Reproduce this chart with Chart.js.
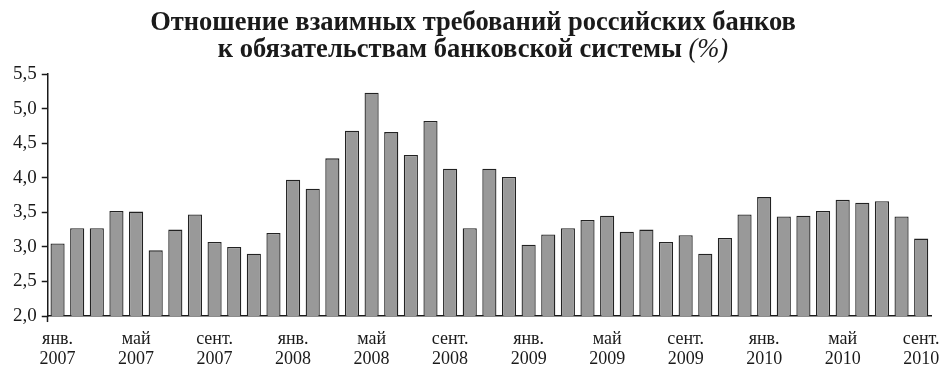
<!DOCTYPE html>
<html>
<head>
<meta charset="utf-8">
<script src="https://cdn.jsdelivr.net/npm/chart.js@4/dist/chart.umd.min.js"></script>
<style>
  html, body { margin: 0; padding: 0; background: #fff; }
  #wrap { width: 947px; height: 367px; position: relative; }
</style>
</head>
<body>
<div id="wrap"><canvas id="chart"></canvas></div>
<script>
// months, Jan 2007 .. Sep 2010
const months = [
  'янв. 2007', 'февр. 2007', 'март 2007', 'апр. 2007', 'май 2007', 'июнь 2007',
  'июль 2007', 'авг. 2007', 'сент. 2007', 'окт. 2007', 'нояб. 2007', 'дек. 2007',
  'янв. 2008', 'февр. 2008', 'март 2008', 'апр. 2008', 'май 2008', 'июнь 2008',
  'июль 2008', 'авг. 2008', 'сент. 2008', 'окт. 2008', 'нояб. 2008', 'дек. 2008',
  'янв. 2009', 'февр. 2009', 'март 2009', 'апр. 2009', 'май 2009', 'июнь 2009',
  'июль 2009', 'авг. 2009', 'сент. 2009', 'окт. 2009', 'нояб. 2009', 'дек. 2009',
  'янв. 2010', 'февр. 2010', 'март 2010', 'апр. 2010', 'май 2010', 'июнь 2010',
  'июль 2010', 'авг. 2010', 'сент. 2010'
];

// ratio of interbank claims to banking system liabilities, %
const ratio = [
  3.05, 3.27, 3.27, 3.52, 3.51, 2.95, 3.25, 3.47, 3.07, 3.00, 2.90, 3.20,
  3.97, 3.84, 4.28, 4.68, 5.23, 4.66, 4.33, 4.82, 4.13, 3.27, 4.13, 4.01,
  3.03, 3.18, 3.27, 3.39, 3.45, 3.22, 3.25, 3.07, 3.17, 2.90, 3.13, 3.47,
  3.72, 3.44, 3.45, 3.52, 3.68, 3.64, 3.66, 3.44, 3.12
];

// labelled every fourth month
const tickLabels = [
  ['янв.', '2007'], ['май', '2007'], ['сент.', '2007'],
  ['янв.', '2008'], ['май', '2008'], ['сент.', '2008'],
  ['янв.', '2009'], ['май', '2009'], ['сент.', '2009'],
  ['янв.', '2010'], ['май', '2010'], ['сент.', '2010']
];

const titleLine1 = 'Отношение взаимных требований российских банков';
const titleLine2 = 'к обязательствам банковской системы';
const titleUnit = '(%)';

const serif = '"Liberation Serif", "DejaVu Serif", serif';

// title drawn by hand so that "(%)" can be italic
const titlePlugin = {
  id: 'twoPartTitle',
  afterDraw(chart) {
    const ctx = chart.ctx;
    const cx = 473;
    ctx.save();
    ctx.fillStyle = '#1a1a1a';
    ctx.textBaseline = 'alphabetic';
    ctx.textAlign = 'left';
    ctx.font = 'bold 26.5px ' + serif;
    let w1 = ctx.measureText(titleLine1).width;
    ctx.fillText(titleLine1, cx - w1 / 2, 30);
    let w2 = ctx.measureText(titleLine2 + ' ').width;
    ctx.font = 'italic 26.5px ' + serif;
    let w3 = ctx.measureText(titleUnit).width;
    let x0 = cx - (w2 + w3) / 2;
    ctx.font = 'bold 26.5px ' + serif;
    ctx.fillText(titleLine2 + ' ', x0, 57);
    ctx.font = 'italic 26.5px ' + serif;
    ctx.fillText(titleUnit, x0 + w2, 57);
    ctx.restore();
  }
};

new Chart(document.getElementById('chart'), {
  type: 'bar',
  data: {
    labels: months,
    datasets: [{
      data: ratio,
      backgroundColor: '#999999',
      borderColor: '#222222',
      borderWidth: 1.3,
      barPercentage: 0.72,
      categoryPercentage: 1
    }]
  },
  options: {
    responsive: true,
    maintainAspectRatio: false,
    animation: false,
    layout: { padding: { top: 74, left: 8, right: 16, bottom: -9 } },
    plugins: {
      legend: { display: false },
      tooltip: { enabled: false },
      title: { display: false }
    },
    scales: {
      x: {
        grid: {
          drawOnChartArea: false,
          drawTicks: true,
          tickLength: 6,
          tickWidth: 1.5,
          tickColor: c => c.index === 0 ? '#1a1a1a' : 'rgba(0,0,0,0)'
        },
        border: { color: '#1a1a1a', width: 1.5 },
        ticks: {
          autoSkip: false,
          maxRotation: 0,
          minRotation: 0,
          padding: 7,
          color: '#1a1a1a',
          font: { family: serif, size: 18, lineHeight: 1.11 },
          callback: (v, i) => i % 4 === 0 ? tickLabels[i / 4] : ''
        }
      },
      y: {
        min: 2,
        max: 5.5,
        grid: {
          drawOnChartArea: false,
          drawTicks: true,
          tickLength: 6,
          tickWidth: 1.5,
          tickColor: '#1a1a1a'
        },
        border: { color: '#1a1a1a', width: 1.5 },
        ticks: {
          stepSize: 0.5,
          padding: 5,
          color: '#1a1a1a',
          font: { family: serif, size: 19 },
          callback: v => v.toFixed(1).replace('.', ',')
        }
      }
    }
  },
  plugins: [titlePlugin]
});
</script>
</body>
</html>
